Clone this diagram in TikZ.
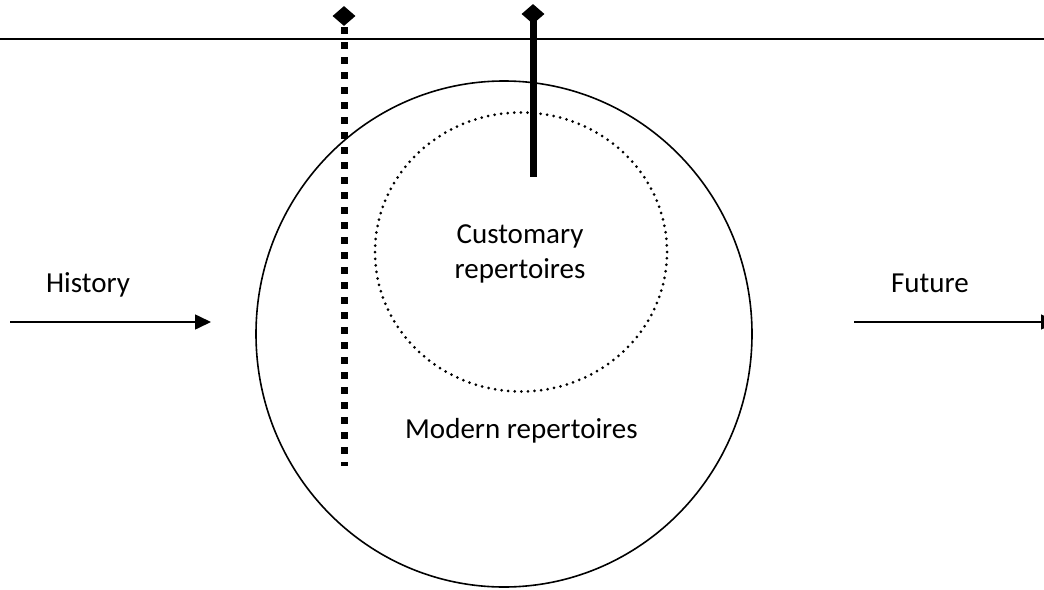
\documentclass[tikz,border=0pt]{standalone}
\usepackage{fontspec}
\setmainfont{Carlito}
\usetikzlibrary{shapes.geometric,arrows.meta}
\begin{document}
\begin{tikzpicture}[x=1pt,y=-1pt,
  lbl/.style={font=\fontsize{29}{35}\selectfont, inner sep=0pt, align=center},
  thin/.style={line width=1.6pt},
  tip/.style={diamond, fill=black, inner sep=0pt, minimum width=23pt, minimum height=20pt},
  arr/.style={thin, -{Triangle[length=16pt,width=15pt]}}]
\useasboundingbox (0,0) rectangle (1044,589);
% horizon
\coordinate (hl) at (0,39);
\coordinate (hr) at (1044,39);
\draw[thin] (hl) -- (hr);
% circles
\node[draw, thin, ellipse, minimum width=496pt, minimum height=506pt, inner sep=0pt] (outer) at (504,334) {};
\node[draw, ellipse, line width=3pt, dash pattern=on 0pt off 6.6pt, line cap=round, minimum width=292pt, minimum height=279pt, inner sep=0pt] (inner) at (521,252) {};
% texts
\node[lbl, anchor=base] (cust) at (520,243) {Customary};
\node[lbl, anchor=base] (rep) at (520,278) {repertoires};
\node[lbl, anchor=base west] (modern) at (405,438) {Modern repertoires};
\node[lbl, anchor=base] (hist) at (88,292) {History};
\node[lbl, anchor=base] (fut) at (930,292) {Future};
% arrows
\coordinate (h1) at (10,322);
\coordinate (h2) at (211,322);
\draw[arr] (h1) -- (h2);
\coordinate (f1) at (854,322);
\coordinate (f2) at (1057,322);
\draw[arr] (f1) -- (f2);
% dashed stick
\node[tip] (d1) at (344,16) {};
\coordinate (d1b) at (344,466);
\draw[line width=7pt, dash pattern=on 7pt off 8pt] (d1.south) ++(0,1) -- (d1b);
% solid stick
\node[tip] (s1) at (533,14) {};
\coordinate (s1b) at (533,177);
\draw[line width=7pt] (s1.center) -- (s1b);
\end{tikzpicture}
\end{document}
